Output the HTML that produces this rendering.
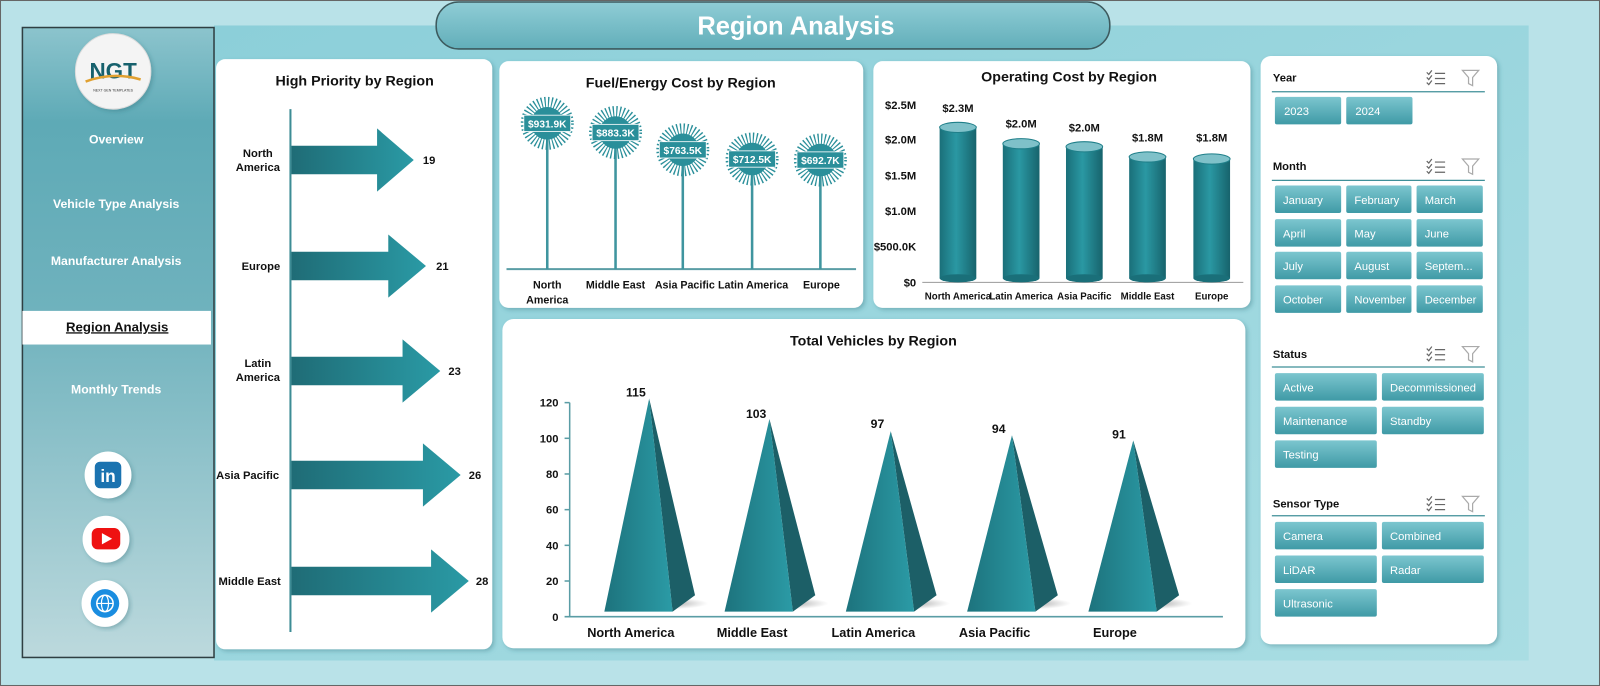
<!DOCTYPE html>
<html><head><meta charset="utf-8"><style>
html,body{margin:0;padding:0;background:#fff;}
svg{display:block;font-family:"Liberation Sans",sans-serif;}
</style></head><body>
<svg width="1600" height="686" viewBox="0 0 1570 673" preserveAspectRatio="none" xmlns="http://www.w3.org/2000/svg">
<defs>
<linearGradient id="bg" x1="0" y1="0" x2="1" y2="1"><stop offset="0" stop-color="#8ccfd9"/><stop offset="1" stop-color="#a9dde3"/></linearGradient>
<linearGradient id="side" x1="0" y1="0" x2="0" y2="1"><stop offset="0" stop-color="#8cc4cd"/><stop offset="0.15" stop-color="#5eaab6"/><stop offset="0.45" stop-color="#6fb2bd"/><stop offset="1" stop-color="#bcd9dd"/></linearGradient>
<linearGradient id="pill" x1="0" y1="0" x2="0" y2="1"><stop offset="0" stop-color="#8fcdd6"/><stop offset="1" stop-color="#62aeb9"/></linearGradient>
<linearGradient id="arr" x1="0" y1="0" x2="1" y2="0"><stop offset="0" stop-color="#1f6c76"/><stop offset="1" stop-color="#2a9aa5"/></linearGradient>
<linearGradient id="cyl" x1="0" y1="0" x2="1" y2="0"><stop offset="0" stop-color="#1a6f79"/><stop offset="0.45" stop-color="#2a98a3"/><stop offset="1" stop-color="#17636c"/></linearGradient>
<linearGradient id="btn" x1="0" y1="0" x2="0" y2="1"><stop offset="0" stop-color="#7cc6cf"/><stop offset="1" stop-color="#3f9aa6"/></linearGradient>
<linearGradient id="pf" x1="0" y1="0" x2="1" y2="0"><stop offset="0" stop-color="#1d737d"/><stop offset="1" stop-color="#2b9ba6"/></linearGradient>
<radialGradient id="sh"><stop offset="0" stop-color="#555" stop-opacity="0.7"/><stop offset="1" stop-color="#888" stop-opacity="0"/></radialGradient>
<filter id="ds" x="-10%" y="-10%" width="120%" height="120%"><feDropShadow dx="2" dy="2" stdDeviation="2" flood-color="#2a6b74" flood-opacity="0.35"/></filter>
<g id="star"><circle r="16" fill="#2a8f9a"/><circle r="19" fill="none" stroke="#2a8f9a" stroke-width="14" stroke-dasharray="1.1 1.9"/></g>
</defs>
<rect x="0.5" y="0.5" width="1569" height="672" fill="#b9e2e8" stroke="#666"/>
<rect x="210" y="25" width="1290" height="623" fill="url(#bg)"/>
<rect x="428" y="2" width="661" height="46" rx="22" fill="url(#pill)" stroke="#3d5a5e" stroke-width="1.5"/>
<text x="781" y="34" text-anchor="middle" font-size="25" font-weight="bold" fill="#fff">Region Analysis</text>
<rect x="22" y="27" width="188" height="618" fill="url(#side)" stroke="#2f3f42" stroke-width="1.5"/>
<circle cx="111" cy="70" r="37" fill="#f4f4f4" filter="url(#ds)" stroke="#ddd"/>
<text x="111" y="77" text-anchor="middle" font-size="22" font-weight="bold" fill="#17616d">NGT</text>
<path d="M84 80 Q111 70 138 78" stroke="#e0a030" stroke-width="2.5" fill="none"/>
<text x="111" y="90" text-anchor="middle" font-size="3.5" fill="#333">NEXT GEN TEMPLATES</text>
<g font-size="12" font-weight="bold" fill="#fff" text-anchor="middle">
<text x="114" y="141">Overview</text>
<text x="114" y="204">Vehicle Type Analysis</text>
<text x="114" y="260">Manufacturer Analysis</text>
<text x="114" y="386">Monthly Trends</text>
</g>
<rect x="22" y="305" width="185" height="33" fill="#fff"/>
<text x="115" y="325" text-anchor="middle" font-size="13" font-weight="bold" fill="#111" text-decoration="underline">Region Analysis</text>
<circle cx="106" cy="466" r="23" fill="#fff" filter="url(#ds)"/><rect x="93" y="453" width="26" height="26" rx="5" fill="#1b73b0"/><text x="106" y="473" text-anchor="middle" font-size="17" font-weight="bold" fill="#fff">in</text>
<circle cx="104" cy="529" r="23" fill="#fff" filter="url(#ds)"/><rect x="90" y="518" width="28" height="21" rx="6" fill="#e11"/><path d="M100 523 L110 528.5 L100 534Z" fill="#fff"/>
<circle cx="103" cy="592" r="23" fill="#fff" filter="url(#ds)"/><circle cx="103" cy="592" r="14" fill="#1a8de0"/><circle cx="103" cy="592" r="8" fill="none" stroke="#fff" stroke-width="1.5"/><line x1="95" y1="592" x2="111" y2="592" stroke="#fff" stroke-width="1.2"/><ellipse cx="103" cy="592" rx="3.5" ry="8" fill="none" stroke="#fff" stroke-width="1.2"/>
<rect x="212" y="58" width="271" height="579" rx="9" fill="#fff" filter="url(#ds)"/>
<text x="348" y="84" text-anchor="middle" font-size="14" font-weight="bold" fill="#111">High Priority by Region</text>
<line x1="285" y1="107" x2="285" y2="620" stroke="#3d8c95" stroke-width="2"/>
<g fill="url(#arr)">
<path d="M286 143 H370 V126 L406 157 L370 188 V171 H286Z"/>
<path d="M286 247 H381 V230 L418 261 L381 292 V275 H286Z"/>
<path d="M286 350 H395 V333 L432 364 L395 395 V378 H286Z"/>
<path d="M286 452 H415 V435 L452 466 L415 497 V480 H286Z"/>
<path d="M286 556 H423 V539 L460 570 L423 601 V584 H286Z"/>
</g>
<g font-size="11" font-weight="bold" fill="#111">
<text x="415" y="161">19</text><text x="428" y="265">21</text><text x="440" y="368">23</text><text x="460" y="470">26</text><text x="467" y="574">28</text>
<g text-anchor="middle"><text x="253" y="154">North</text><text x="253" y="168">America</text><text x="256" y="265">Europe</text><text x="253" y="360">Latin</text><text x="253" y="374">America</text><text x="243" y="470">Asia Pacific</text><text x="245" y="574">Middle East</text></g>
</g>
<rect x="490" y="60" width="357" height="242" rx="9" fill="#fff" filter="url(#ds)"/>
<text x="668" y="86" text-anchor="middle" font-size="14" font-weight="bold" fill="#111">Fuel/Energy  Cost by Region</text>
<line x1="497" y1="264" x2="840" y2="264" stroke="#5a9da5" stroke-width="2"/>
<g stroke="#3f959f" stroke-width="2.5"><line x1="537" y1="121" x2="537" y2="264"/><line x1="604" y1="130" x2="604" y2="264"/><line x1="670" y1="147" x2="670" y2="264"/><line x1="738" y1="156" x2="738" y2="264"/><line x1="805" y1="157" x2="805" y2="264"/></g>
<use href="#star" x="537" y="121"/><use href="#star" x="604" y="130"/><use href="#star" x="670" y="147"/><use href="#star" x="738" y="156"/><use href="#star" x="805" y="157"/>
<g fill="#2a8f9a" stroke="#fff" stroke-width="0.8"><rect x="514" y="113" width="46" height="16"/><rect x="581" y="122" width="46" height="16"/><rect x="647" y="139" width="46" height="16"/><rect x="715" y="148" width="46" height="16"/><rect x="782" y="149" width="46" height="16"/></g>
<g font-size="10" font-weight="bold" fill="#fff" text-anchor="middle"><text x="537" y="125">$931.9K</text><text x="604" y="134">$883.3K</text><text x="670" y="151">$763.5K</text><text x="738" y="160">$712.5K</text><text x="805" y="161">$692.7K</text></g>
<g font-size="10.5" font-weight="bold" fill="#111" text-anchor="middle"><text x="537" y="283">North</text><text x="537" y="298">America</text><text x="604" y="283">Middle East</text><text x="672" y="283">Asia Pacific</text><text x="739" y="283">Latin America</text><text x="806" y="283">Europe</text></g>
<rect x="857" y="60" width="370" height="242" rx="9" fill="#fff" filter="url(#ds)"/>
<text x="1049" y="80" text-anchor="middle" font-size="14" font-weight="bold" fill="#111">Operating Cost by Region</text>
<g font-size="11" font-weight="bold" fill="#111" text-anchor="end"><text x="899" y="107">$2.5M</text><text x="899" y="141">$2.0M</text><text x="899" y="176">$1.5M</text><text x="899" y="211">$1.0M</text><text x="899" y="246">$500.0K</text><text x="899" y="281">$0</text></g>
<line x1="905" y1="277" x2="1220" y2="277" stroke="#999" stroke-width="1"/>
<g>
<rect x="922" y="125" width="36" height="148" fill="url(#cyl)"/><ellipse cx="940" cy="273" rx="18" ry="4" fill="#1a6f79"/><ellipse cx="940" cy="125" rx="18" ry="5" fill="#7fc1c9" stroke="#1f7f89"/>
<rect x="984" y="141" width="36" height="132" fill="url(#cyl)"/><ellipse cx="1002" cy="273" rx="18" ry="4" fill="#1a6f79"/><ellipse cx="1002" cy="141" rx="18" ry="5" fill="#7fc1c9" stroke="#1f7f89"/>
<rect x="1046" y="144" width="36" height="129" fill="url(#cyl)"/><ellipse cx="1064" cy="273" rx="18" ry="4" fill="#1a6f79"/><ellipse cx="1064" cy="144" rx="18" ry="5" fill="#7fc1c9" stroke="#1f7f89"/>
<rect x="1108" y="154" width="36" height="119" fill="url(#cyl)"/><ellipse cx="1126" cy="273" rx="18" ry="4" fill="#1a6f79"/><ellipse cx="1126" cy="154" rx="18" ry="5" fill="#7fc1c9" stroke="#1f7f89"/>
<rect x="1171" y="156" width="36" height="117" fill="url(#cyl)"/><ellipse cx="1189" cy="273" rx="18" ry="4" fill="#1a6f79"/><ellipse cx="1189" cy="156" rx="18" ry="5" fill="#7fc1c9" stroke="#1f7f89"/>
</g>
<g font-size="11" font-weight="bold" fill="#111" text-anchor="middle"><text x="940" y="110">$2.3M</text><text x="1002" y="125">$2.0M</text><text x="1064" y="129">$2.0M</text><text x="1126" y="139">$1.8M</text><text x="1189" y="139">$1.8M</text></g>
<g font-size="9.5" font-weight="bold" fill="#111" text-anchor="middle"><text x="940" y="294">North America</text><text x="1002" y="294">Latin America</text><text x="1064" y="294">Asia Pacific</text><text x="1126" y="294">Middle East</text><text x="1189" y="294">Europe</text></g>
<rect x="493" y="313" width="729" height="323" rx="11" fill="#fff" filter="url(#ds)"/>
<text x="857" y="339" text-anchor="middle" font-size="14" font-weight="bold" fill="#111">Total Vehicles by Region</text>
<g font-size="11" font-weight="bold" fill="#111" text-anchor="end"><text x="548" y="399">120</text><text x="548" y="434">100</text><text x="548" y="469">80</text><text x="548" y="504">60</text><text x="548" y="539">40</text><text x="548" y="574">20</text><text x="548" y="609">0</text></g>
<line x1="559" y1="395" x2="559" y2="605" stroke="#5a9da5" stroke-width="1.5"/>
<line x1="554" y1="605" x2="1200" y2="605" stroke="#5a9da5" stroke-width="1.5"/>
<g stroke="#5a9da5" stroke-width="1.5"><line x1="554" y1="395" x2="559" y2="395"/><line x1="554" y1="430" x2="559" y2="430"/><line x1="554" y1="465" x2="559" y2="465"/><line x1="554" y1="500" x2="559" y2="500"/><line x1="554" y1="535" x2="559" y2="535"/><line x1="554" y1="570" x2="559" y2="570"/></g>
<g>
<ellipse cx="650" cy="592" rx="45" ry="6" fill="url(#sh)"/>
<ellipse cx="768" cy="592" rx="45" ry="6" fill="url(#sh)"/>
<ellipse cx="887" cy="592" rx="45" ry="6" fill="url(#sh)"/>
<ellipse cx="1006" cy="592" rx="45" ry="6" fill="url(#sh)"/>
<ellipse cx="1125" cy="592" rx="45" ry="6" fill="url(#sh)"/>
</g>
<g>
<path d="M637 391 L660 600 L682 584Z" fill="#1c5f67"/><path d="M637 391 L593 600 L660 600Z" fill="url(#pf)"/>
<path d="M755 411 L778 600 L800 584Z" fill="#1c5f67"/><path d="M755 411 L711 600 L778 600Z" fill="url(#pf)"/>
<path d="M874 423 L897 600 L919 584Z" fill="#1c5f67"/><path d="M874 423 L830 600 L897 600Z" fill="url(#pf)"/>
<path d="M993 427 L1016 600 L1038 584Z" fill="#1c5f67"/><path d="M993 427 L949 600 L1016 600Z" fill="url(#pf)"/>
<path d="M1112 432 L1135 600 L1157 584Z" fill="#1c5f67"/><path d="M1112 432 L1068 600 L1135 600Z" fill="url(#pf)"/>
</g>
<g font-size="12" font-weight="bold" fill="#111" text-anchor="middle"><text x="624" y="389">115</text><text x="742" y="410">103</text><text x="861" y="420">97</text><text x="980" y="425">94</text><text x="1098" y="430">91</text></g>
<g font-size="12.5" font-weight="bold" fill="#111" text-anchor="middle"><text x="619" y="625">North America</text><text x="738" y="625">Middle East</text><text x="857" y="625">Latin America</text><text x="976" y="625">Asia Pacific</text><text x="1094" y="625">Europe</text></g>
<rect x="1237" y="55" width="232" height="577" rx="10" fill="#fff" filter="url(#ds)"/>
<g font-size="11" font-weight="bold" fill="#111"><text x="1249" y="80">Year</text><text x="1249" y="167">Month</text><text x="1249" y="351">Status</text><text x="1249" y="498">Sensor Type</text></g>
<g stroke="#3f8f98" stroke-width="1.2"><line x1="1248" y1="90" x2="1457" y2="90"/><line x1="1248" y1="177" x2="1457" y2="177"/><line x1="1248" y1="360" x2="1457" y2="360"/><line x1="1248" y1="506" x2="1457" y2="506"/></g>
<g font-size="12" fill="#666" stroke="#666" stroke-width="1.2">
<g transform="translate(1400,68)"><path d="M0 3 l2 2 l3-4 M0 8 l2 2 l3-4 M0 13 l2 2 l3-4" fill="none"/><path d="M8 4 h10 M8 9 h10 M8 14 h10"/></g>
<g transform="translate(1400,155)"><path d="M0 3 l2 2 l3-4 M0 8 l2 2 l3-4 M0 13 l2 2 l3-4" fill="none"/><path d="M8 4 h10 M8 9 h10 M8 14 h10"/></g>
<g transform="translate(1400,339)"><path d="M0 3 l2 2 l3-4 M0 8 l2 2 l3-4 M0 13 l2 2 l3-4" fill="none"/><path d="M8 4 h10 M8 9 h10 M8 14 h10"/></g>
<g transform="translate(1400,486)"><path d="M0 3 l2 2 l3-4 M0 8 l2 2 l3-4 M0 13 l2 2 l3-4" fill="none"/><path d="M8 4 h10 M8 9 h10 M8 14 h10"/></g>
<g fill="none" stroke="#aaa"><path d="M1435 69 h16 l-6 7 v8 l-4-2 v-6z"/><path d="M1435 156 h16 l-6 7 v8 l-4-2 v-6z"/><path d="M1435 340 h16 l-6 7 v8 l-4-2 v-6z"/><path d="M1435 487 h16 l-6 7 v8 l-4-2 v-6z"/></g>
</g>
<g fill="url(#btn)">
<rect x="1251" y="95" width="65" height="27" rx="2"/><rect x="1321" y="95" width="65" height="27" rx="2"/>
<rect x="1251" y="182" width="65" height="27" rx="2"/><rect x="1321" y="182" width="64" height="27" rx="2"/><rect x="1390" y="182" width="65" height="27" rx="2"/>
<rect x="1251" y="215" width="65" height="27" rx="2"/><rect x="1321" y="215" width="64" height="27" rx="2"/><rect x="1390" y="215" width="65" height="27" rx="2"/>
<rect x="1251" y="247" width="65" height="27" rx="2"/><rect x="1321" y="247" width="64" height="27" rx="2"/><rect x="1390" y="247" width="65" height="27" rx="2"/>
<rect x="1251" y="280" width="65" height="27" rx="2"/><rect x="1321" y="280" width="64" height="27" rx="2"/><rect x="1390" y="280" width="65" height="27" rx="2"/>
<rect x="1251" y="366" width="100" height="27" rx="2"/><rect x="1356" y="366" width="100" height="27" rx="2"/>
<rect x="1251" y="399" width="100" height="27" rx="2"/><rect x="1356" y="399" width="100" height="27" rx="2"/>
<rect x="1251" y="432" width="100" height="27" rx="2"/>
<rect x="1251" y="512" width="100" height="27" rx="2"/><rect x="1356" y="512" width="100" height="27" rx="2"/>
<rect x="1251" y="545" width="100" height="27" rx="2"/><rect x="1356" y="545" width="100" height="27" rx="2"/>
<rect x="1251" y="578" width="100" height="27" rx="2"/>
</g>
<g font-size="11" fill="#fff">
<text x="1260" y="113">2023</text><text x="1330" y="113">2024</text>
<text x="1259" y="200">January</text><text x="1329" y="200">February</text><text x="1398" y="200">March</text>
<text x="1259" y="233">April</text><text x="1329" y="233">May</text><text x="1398" y="233">June</text>
<text x="1259" y="265">July</text><text x="1329" y="265">August</text><text x="1398" y="265">Septem...</text>
<text x="1259" y="298">October</text><text x="1329" y="298">November</text><text x="1398" y="298">December</text>
<text x="1259" y="384">Active</text><text x="1364" y="384">Decommissioned</text>
<text x="1259" y="417">Maintenance</text><text x="1364" y="417">Standby</text>
<text x="1259" y="450">Testing</text>
<text x="1259" y="530">Camera</text><text x="1364" y="530">Combined</text>
<text x="1259" y="563">LiDAR</text><text x="1364" y="563">Radar</text>
<text x="1259" y="596">Ultrasonic</text>
</g>
</svg>
</body></html>
